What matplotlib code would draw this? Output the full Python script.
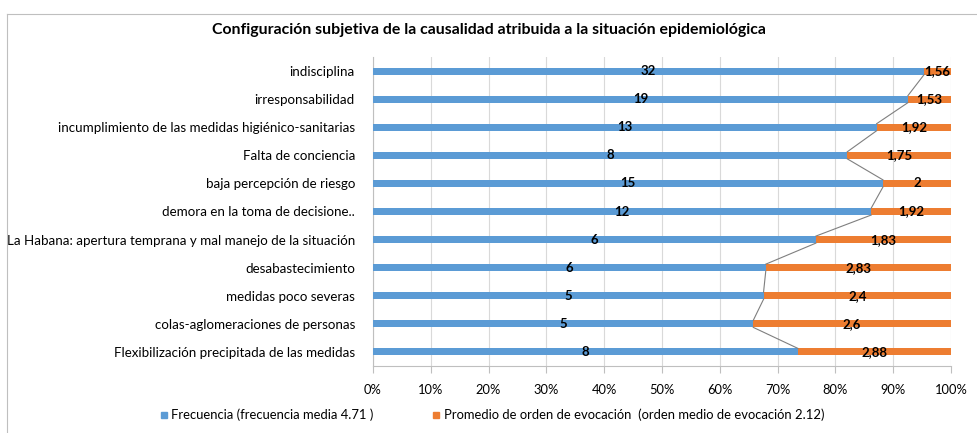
import matplotlib
matplotlib.use("Agg")
import matplotlib.pyplot as plt
import numpy as np
from matplotlib.lines import Line2D

categories = [
    "indisciplina",
    "irresponsabilidad",
    "incumplimiento de las medidas higiénico-sanitarias",
    "Falta de conciencia",
    "baja percepción de riesgo",
    "demora en la toma de decisione..",
    "La Habana: apertura temprana y mal manejo de la situación",
    "desabastecimiento",
    "medidas poco severas",
    "colas-aglomeraciones de personas",
    "Flexibilización precipitada de las medidas",
]
frecuencia = [32, 19, 13, 8, 15, 12, 6, 6, 5, 5, 8]
orden = [1.56, 1.53, 1.92, 1.75, 2, 1.92, 1.83, 2.83, 2.4, 2.6, 2.88]
orden_labels = ["1,56", "1,53", "1,92", "1,75", "2", "1,92", "1,83", "2,83", "2,4", "2,6", "2,88"]
series_names = ["Frecuencia (frecuencia media 4.71 )",
                "Promedio de orden de evocación  (orden medio de evocación 2.12)"]
title = "Configuración subjetiva de la causalidad atribuida a la situación epidemiológica"

plt.rcParams['font.family'] = ['Lato', 'DejaVu Sans']

blue = "#5b9bd5"
orange = "#ed7d31"

f = np.array(frecuencia, dtype=float)
o = np.array(orden, dtype=float)
tot = f + o
fp = f / tot
op = o / tot
y = np.arange(len(categories))
h = 0.25

fig = plt.figure(figsize=(9.78, 4.33), dpi=100)
ax = fig.add_axes([373/978, 1-366/433, (951-373)/978, (366-57)/433])

ax.barh(y, fp, height=h, color=blue, zorder=3)
ax.barh(y, op, left=fp, height=h, color=orange, zorder=3)

# series lines
for i in range(len(y)-1):
    ax.plot([fp[i], fp[i+1]], [y[i]+h/2, y[i+1]-h/2], color="#7f7f7f", lw=0.8, zorder=4)

for i in range(len(y)):
    ax.text(fp[i]/2, y[i], str(frecuencia[i]), ha="center", va="center",
            fontsize=9.5, fontweight="bold", color="black", zorder=5)
    ax.text(fp[i] + op[i]/2, y[i], orden_labels[i], ha="center", va="center",
            fontsize=9.5, fontweight="bold", color="black", zorder=5)

ax.set_xlim(0, 1)
ax.set_ylim(len(y)-0.5, -0.5)
ax.set_yticks(y)
ax.set_yticklabels(categories, fontsize=9.65)
ax.set_xticks(np.linspace(0, 1, 11))
ax.set_xticklabels([f"{int(v)}%" for v in np.arange(0, 101, 10)], fontsize=9.3)
ax.tick_params(axis="y", length=0, pad=13)
ax.tick_params(axis="x", length=5, color="#bfbfbf", pad=8, direction="out")
ax.grid(axis="x", color="#d9d9d9", lw=0.8, zorder=0)
for s in ["top", "right"]:
    ax.spines[s].set_visible(False)
ax.spines["left"].set_color("#bfbfbf")
ax.spines["bottom"].set_color("#bfbfbf")

fig.text(0.5, 1-30/433, title, ha="center", va="center", fontsize=11.4, fontweight="bold")

handles = [Line2D([], [], marker="s", ls="", color=blue, markersize=5),
           Line2D([], [], marker="s", ls="", color=orange, markersize=5)]
fig.legend(handles, series_names, loc="center", bbox_to_anchor=(492/978, 1-415/433),
           ncol=2, frameon=False, fontsize=9.4, handletextpad=0.28, columnspacing=4.5,
           handlelength=0.6, borderpad=0, borderaxespad=0)

# chart border
fig.add_artist(Line2D([7/978, 7/978], [0, 1-14/433], transform=fig.transFigure, color="#bfbfbf", lw=0.8))
fig.add_artist(Line2D([7/978, 1], [1-14/433, 1-14/433], transform=fig.transFigure, color="#bfbfbf", lw=0.8))

fig.savefig("out.png", dpi=100)
